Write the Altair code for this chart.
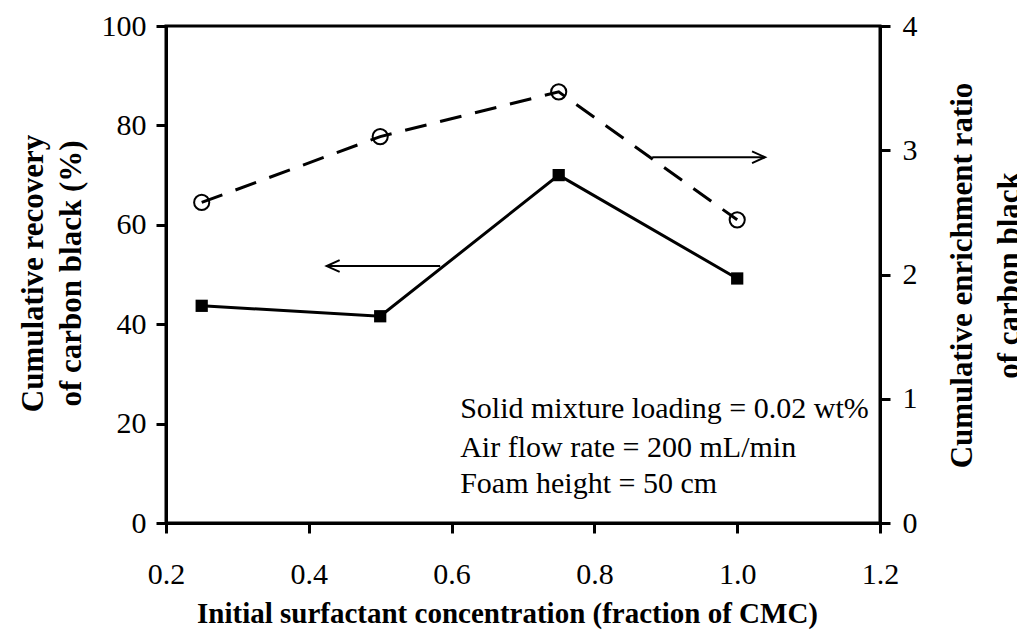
import altair as alt
import pandas as pd

# data
conc = [0.25, 0.5, 0.75, 1.0]
recovery = [43.7, 41.6, 70.0, 49.2]          # left axis (%)
enrichment = [2.58, 3.11, 3.47, 2.44]        # right axis (ratio)

x_ticks = [0.2, 0.4, 0.6, 0.8, 1.0, 1.2]
left_ticks = [0, 20, 40, 60, 80, 100]
right_ticks = [0, 1, 2, 3, 4]

# annotation arrows (data coordinates of left axis)
arrow_tip_x = [0.425, 1.039]
arrow_tail_x = [0.584, 0.881]
arrow_y = [51.7, 73.6]
arrow_dir = ["left", "right"]

note_lines = ["Solid mixture loading = 0.02 wt%",
              "Air flow rate = 200 mL/min",
              "Foam height = 50 cm"]
note_x = [0.612, 0.612, 0.612]
note_y = [21.1, 13.3, 6.0]

df = pd.DataFrame({"conc": conc, "rec": recovery, "enr": enrichment})
arrows = pd.DataFrame({"tip": arrow_tip_x, "tail": arrow_tail_x, "y": arrow_y, "dir": arrow_dir})
notes = pd.DataFrame({"t": note_lines, "x": note_x, "y": note_y})

FONT = "Liberation Serif"
xscale = alt.Scale(domain=[0.2, 1.2], nice=False, zero=False)
lscale = alt.Scale(domain=[0, 100], nice=False)
rscale = alt.Scale(domain=[0, 4], nice=False)

x_axis = alt.Axis(values=x_ticks, format=".1f", labelPadding=26, labelFlush=False,
                  title="Initial surfactant concentration (fraction of CMC)",
                  titleFontSize=29, titleX=341, titleY=90, titleBaseline="middle")
left_axis = alt.Axis(values=left_ticks, labelPadding=10, labelFlush=False,
                     title=["Cumulative recovery", "of carbon black (%)"],
                     titleAngle=270, titleX=-133, titleY=247,
                     titleAlign="center", titleBaseline="middle", titleLineHeight=38)
right_axis = alt.Axis(values=right_ticks, orient="right", labelPadding=12, labelFlush=False,
                      title=["Cumulative enrichment ratio", "of carbon black"],
                      titleAngle=270, titleX=82, titleY=249,
                      titleAlign="center", titleBaseline="middle", titleLineHeight=47)


def LX(f):
    return alt.X(f, type="quantitative", scale=xscale, axis=x_axis)


def LY(f):
    return alt.Y(f, type="quantitative", scale=lscale, axis=left_axis)


def RY(f):
    return alt.Y(f, type="quantitative", scale=rscale, axis=right_axis)


left_line = alt.Chart(df).mark_line(color="black", strokeWidth=3).encode(
    x=LX("conc"), y=LY("rec"))
left_pts = alt.Chart(df).mark_point(shape="square", filled=True, color="black",
                                    size=150, opacity=1).encode(x=LX("conc"), y=LY("rec"))

arrow_rule = alt.Chart(arrows).mark_rule(color="black", strokeWidth=2).encode(
    x=LX("tip"), x2="tail:Q", y=LY("y"))
head_left = alt.Chart(arrows).transform_filter(alt.datum.dir == "left").mark_point(
    shape="M 1 -0.45 L 0 0 L 1 0.45", filled=False, color="black", strokeWidth=2,
    size=676, opacity=1).encode(x=LX("tip"), y=LY("y"))
head_right = alt.Chart(arrows).transform_filter(alt.datum.dir == "right").mark_point(
    shape="M -1 -0.45 L 0 0 L -1 0.45", filled=False, color="black", strokeWidth=2,
    size=676, opacity=1).encode(x=LX("tip"), y=LY("y"))

note_text = alt.Chart(notes).mark_text(align="left", baseline="alphabetic", font=FONT,
                                       fontSize=30, color="black").encode(
    x=LX("x"), y=LY("y"), text="t:N")

left_group = alt.layer(left_line, left_pts, arrow_rule, head_left, head_right, note_text)

right_line = alt.Chart(df).mark_line(color="black", strokeWidth=3, strokeDash=[22, 14]).encode(
    x=LX("conc"), y=RY("enr"))
right_pts = alt.Chart(df).mark_point(shape="circle", filled=False, color="black",
                                     strokeWidth=2, size=230, opacity=1).encode(
    x=LX("conc"), y=RY("enr"))
right_group = alt.layer(right_line, right_pts)

chart = alt.layer(left_group, right_group).resolve_scale(y="independent").properties(
    width=714, height=497,
    autosize=alt.AutoSizeParams(type="none"),
    padding={"left": 166, "top": 26, "right": 137, "bottom": 117},
    background="white",
).configure_view(stroke="black", strokeWidth=3).configure_axis(
    grid=False, domainColor="black", domainWidth=3, tickColor="black", tickWidth=3,
    tickSize=10, labelFont=FONT, labelFontSize=30, labelColor="black",
    titleFont=FONT, titleFontWeight="bold", titleFontSize=31, titleColor="black",
)

chart.save("out.html", embed_options={"renderer": "svg", "actions": False})
